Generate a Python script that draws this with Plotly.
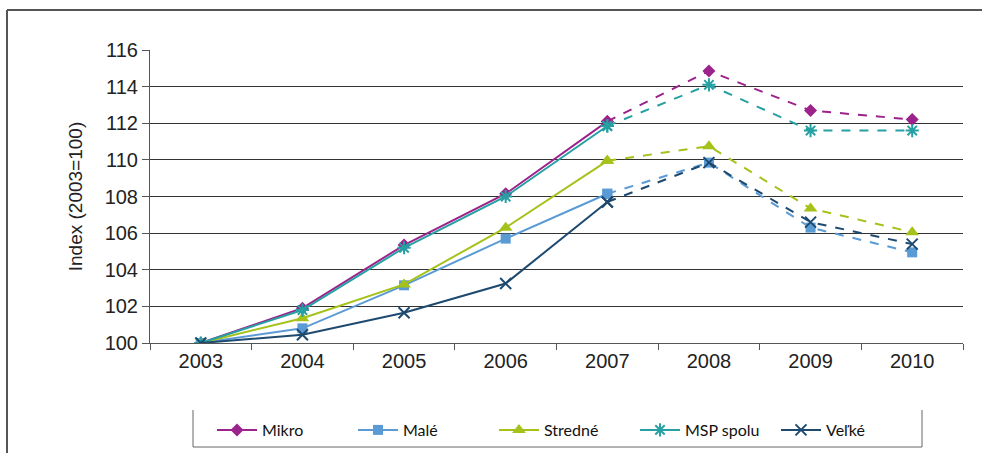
import plotly.graph_objects as go

years = ["2003", "2004", "2005", "2006", "2007", "2008", "2009", "2010"]
series_names = ["Mikro", "Malé", "Stredné", "MSP spolu", "Veľké"]
mikro = [100, 101.9, 105.35, 108.15, 112.1, 114.85, 112.7, 112.2]
male = [100, 100.8, 103.15, 105.7, 108.15, 109.85, 106.3, 104.95]
stredne = [100, 101.35, 103.2, 106.3, 109.95, 110.75, 107.35, 106.05]
msp_spolu = [100, 101.8, 105.2, 108.0, 111.85, 114.1, 111.6, 111.6]
velke = [100, 100.45, 101.65, 103.25, 107.7, 109.85, 106.6, 105.4]
y_ticks = [100, 102, 104, 106, 108, 110, 112, 114, 116]

values = [mikro, male, stredne, msp_spolu, velke]
colors = ["#9C228C", "#5B9BD5", "#A5C21A", "#26A0A2", "#1E4A70"]
symbols = ["diamond", "square", "triangle-up", "asterisk-open", "x-thin-open"]
sizes = [10, 10, 12, 11, 11]

SPLIT = 4  # solid up to 2007, dashed afterwards

fig = go.Figure()
for name, vals, col, sym, sz in zip(series_names, values, colors, symbols, sizes):
    mk = dict(symbol=sym, size=sz, color=col, line=dict(color=col, width=2 if "open" in sym else 0))
    fig.add_trace(go.Scatter(
        x=years[:SPLIT + 1], y=vals[:SPLIT + 1], name=name, mode="lines+markers",
        line=dict(color=col, width=2), marker=mk, legendgroup=name, showlegend=True,
    ))
    fig.add_trace(go.Scatter(
        x=years[SPLIT:], y=vals[SPLIT:], name=name, mode="lines+markers",
        line=dict(color=col, width=2, dash="dash"), marker=mk, legendgroup=name, showlegend=False,
    ))

# geometry in page pixels (body margin removed via post_script)
W, H = 982, 453
PL, PR, PT, PB = 150, 963, 50, 343  # plot area in page pixels
L, T = PL, PT
R, B = W - PR, H - PB
pw, ph = PR - PL, PB - PT

def px(x):
    return (x - PL) / pw

def py(y):
    return (PB - y) / ph

shapes = [
    # outer frame (left and top visible)
    dict(type="line", xref="paper", yref="paper", x0=px(7), x1=px(7), y0=py(10), y1=py(470),
         line=dict(color="#555555", width=2)),
    dict(type="line", xref="paper", yref="paper", x0=px(7), x1=px(1000), y0=py(10), y1=py(10),
         line=dict(color="#555555", width=2)),
    # legend box (left, right, bottom)
    dict(type="line", xref="paper", yref="paper", x0=px(193), x1=px(193), y0=py(410), y1=py(447),
         line=dict(color="#666666", width=1)),
    dict(type="line", xref="paper", yref="paper", x0=px(922), x1=px(922), y0=py(410), y1=py(447),
         line=dict(color="#666666", width=1)),
    dict(type="line", xref="paper", yref="paper", x0=px(193), x1=px(922), y0=py(447), y1=py(447),
         line=dict(color="#666666", width=1)),
]

fig.update_layout(
    width=W, height=H,
    margin=dict(l=L, r=R, t=T, b=B, pad=0, autoexpand=False),
    paper_bgcolor="white", plot_bgcolor="white",
    font=dict(family="Liberation Sans", color="#222222"),
    shapes=shapes,
    showlegend=True,
    legend=dict(
        orientation="h", x=px(212), xanchor="left", y=py(430), yanchor="middle",
        font=dict(family="Lato", size=16, color="#111111"),
        entrywidth=86, entrywidthmode="pixels", itemwidth=40,
        bgcolor="rgba(0,0,0,0)", tracegroupgap=0,
    ),
    xaxis=dict(
        type="category", range=[-0.5, 7.5], tickson="boundaries",
        ticks="outside", ticklen=6, tickcolor="#555555",
        showline=True, linecolor="#555555", linewidth=1,
        showgrid=False, tickfont=dict(family="Liberation Sans", size=20, color="#222222"),
    ),
    yaxis=dict(
        range=[100, 116], tickvals=y_ticks, ticktext=[str(v) for v in y_ticks],
        ticks="outside", ticklen=7, tickcolor="#555555",
        showline=True, linecolor="#555555", linewidth=1,
        showgrid=True, gridcolor="#333333", gridwidth=1, zeroline=False,
        tickfont=dict(family="Liberation Sans", size=20, color="#222222"),
        title=dict(text="Index (2003=100)", font=dict(family="Liberation Sans", size=19, color="#222222"),
                   standoff=16),
    ),
)

fig.write_html("out.html", config={"displayModeBar": False},
               post_script="document.body.style.margin='0';")
